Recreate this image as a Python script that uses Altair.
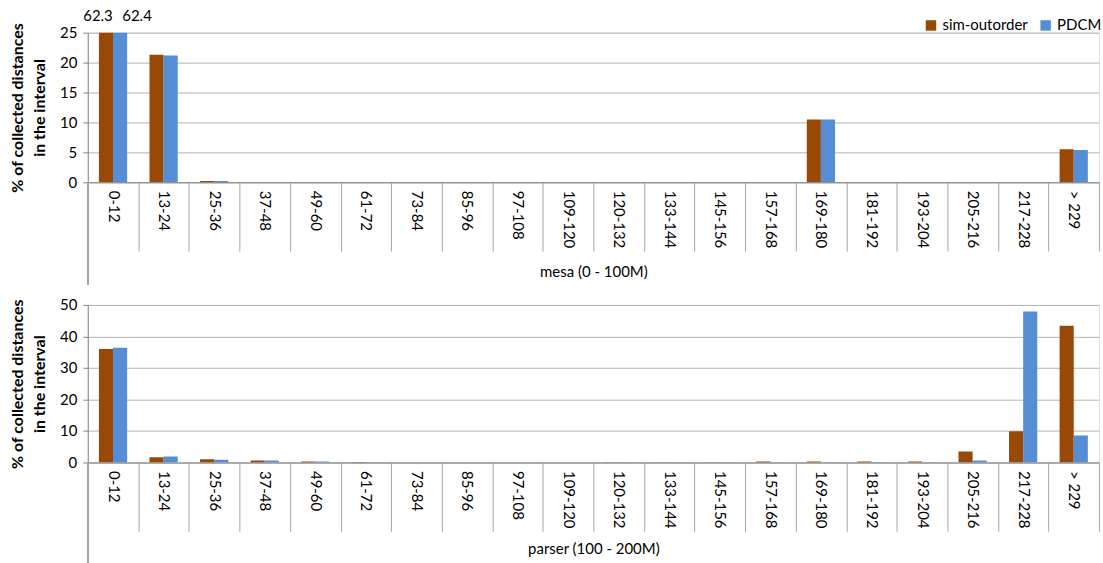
import altair as alt
import pandas as pd

categories = ["0-12", "13-24", "25-36", "37-48", "49-60", "61-72", "73-84", "85-96",
              "97-108", "109-120", "120-132", "133-144", "145-156", "157-168",
              "169-180", "181-192", "193-204", "205-216", "217-228", "> 229"]
series = ["sim-outorder", "PDCM"]
colors = ["#984807", "#558ED5"]

mesa_sim = [62.3, 21.3, 0.2, 0, 0, 0, 0, 0, 0, 0, 0, 0, 0, 0, 10.5, 0, 0, 0, 0, 5.5]
mesa_pdcm = [62.4, 21.2, 0.2, 0, 0, 0, 0, 0, 0, 0, 0, 0, 0, 0, 10.5, 0, 0, 0, 0, 5.4]

parser_sim = [36.0, 1.7, 1.0, 0.6, 0.3, 0.15, 0, 0, 0, 0, 0.1, 0.1, 0.1, 0.3, 0.3, 0.3, 0.3, 3.5, 9.9, 43.4]
parser_pdcm = [36.4, 1.9, 0.9, 0.6, 0.3, 0.05, 0, 0, 0, 0, 0.1, 0.1, 0.1, 0.1, 0.1, 0.2, 0.2, 0.6, 47.9, 8.6]

FONT = "Lato"
Y_TITLE = ["% of collected distances", "in the interval"]


def long_df(sim, pdcm):
    rows = []
    for c, s, p in zip(categories, sim, pdcm):
        rows.append({"cat": c, "series": series[0], "value": s})
        rows.append({"cat": c, "series": series[1], "value": p})
    return pd.DataFrame(rows)


def panel(df, ymax, ystep, xtitle, width, height, show_legend, title_pad):
    x_axis = alt.Axis(labelAngle=90, tickBand="extent", tickSize=69,
                      tickColor="#A6A6A6", domainColor="#868686",
                      labelPadding=-61, labelFontSize=15, labelColor="#000000",
                      labelFont=FONT, titleFont=FONT, titleFontSize=15,
                      titleFontWeight="normal", titleColor="#000000",
                      titlePadding=title_pad, grid=False)
    x = alt.X("cat:N", sort=categories, title=xtitle,
              scale=alt.Scale(paddingInner=0, paddingOuter=0), axis=x_axis)
    xo = alt.XOffset("series:N", sort=series,
                     scale=alt.Scale(paddingOuter=0.79, paddingInner=0))
    y_axis = alt.Axis(values=list(range(0, ymax + 1, ystep)), title=Y_TITLE,
                      grid=True, gridColor="#B3B3B3", domainColor="#868686",
                      tickColor="#868686", tickSize=5, labelPadding=6,
                      labelFontSize=15, labelFont=FONT, labelColor="#000000",
                      titleFont=FONT, titleFontSize=16, titleFontWeight="bold",
                      titleColor="#000000", titlePadding=12, titleLineHeight=22)
    y_scale = alt.Scale(domain=[0, ymax], nice=False)
    y = alt.Y("value:Q", scale=y_scale, axis=y_axis)
    if show_legend:
        legend = alt.Legend(orient="none", legendX=838, legendY=-15, direction="horizontal",
                            title=None, symbolType="square", symbolSize=110,
                            symbolStrokeWidth=0, labelFontSize=15, labelFont=FONT,
                            labelColor="#000000", columnPadding=10, labelOffset=4)
    else:
        legend = None
    color = alt.Color("series:N", sort=series,
                      scale=alt.Scale(domain=series, range=colors), legend=legend)

    base = alt.Chart(df)
    bars = base.mark_bar(clip=True).encode(x=x, xOffset=xo, y=y, color=color)

    over = base.transform_filter(alt.datum.value > ymax)
    ydat = alt.YDatum(ymax, scale=y_scale, axis=y_axis)
    txt_sim = over.transform_filter(alt.datum.series == series[0]).mark_text(
        align="center", baseline="bottom", dx=-8, dy=-9, fontSize=15, font=FONT,
        color="#000000").encode(x=x, xOffset=xo, y=ydat,
                                text=alt.Text("value:Q", format=".1f"))
    txt_pdcm = over.transform_filter(alt.datum.series == series[1]).mark_text(
        align="center", baseline="bottom", dx=17, dy=-9, fontSize=15, font=FONT,
        color="#000000").encode(x=x, xOffset=xo, y=ydat,
                                text=alt.Text("value:Q", format=".1f"))

    side = alt.Chart(df).mark_rule(color="#A6A6A6", strokeWidth=1, clip=False).encode(
        x=alt.value(0), y=alt.value(height), y2=alt.value(height + 103))

    layer = alt.layer(bars, txt_sim, txt_pdcm, side).properties(width=width, height=height)
    return layer


top = panel(long_df(mesa_sim, mesa_pdcm), 25, 5, "mesa (0 - 100M)", 1014, 150, True, 13)
bottom = panel(long_df(parser_sim, parser_pdcm), 50, 10, "parser (100 - 200M)", 1014, 158, False, 10)

chart = alt.vconcat(top, bottom, spacing=11).resolve_scale(
    color="independent", y="independent", x="independent", xOffset="independent"
).properties(
    padding={"left": 9, "top": 7, "right": 0, "bottom": 0}
).configure_view(stroke=None).configure(background="#FFFFFF")

chart.save("out.html", embed_options={"renderer": "svg", "actions": False})
